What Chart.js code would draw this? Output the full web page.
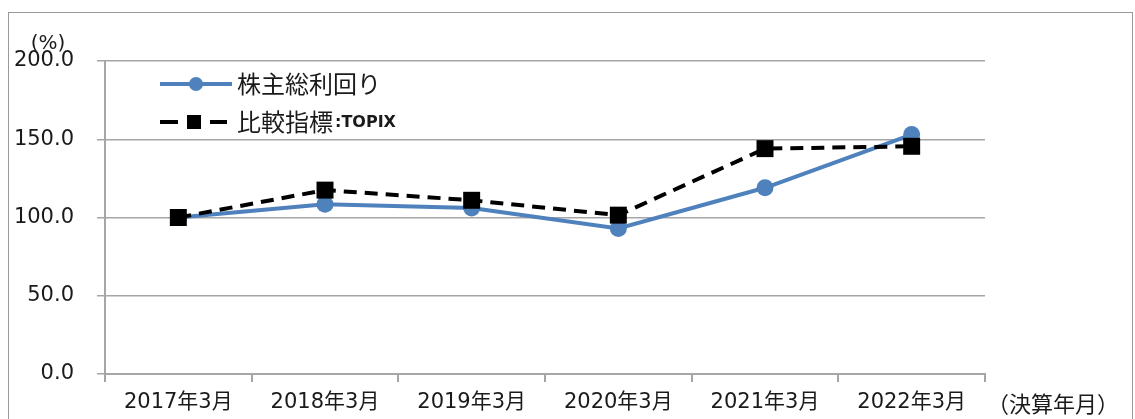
<!DOCTYPE html>
<html>
<head>
<meta charset="utf-8">
<script src="https://cdn.jsdelivr.net/npm/chart.js@4/dist/chart.umd.min.js"></script>
<style>
  html, body { margin: 0; padding: 0; background: #fff; }
  #wrap { width: 1135px; height: 419px; position: relative; }
</style>
</head>
<body>
<div id="wrap"><canvas id="c" width="1135" height="419"></canvas></div>
<script>
// chart data
const categories = ['2017年3月', '2018年3月', '2019年3月', '2020年3月', '2021年3月', '2022年3月'];
const totalReturn = [100.0, 108.5, 106.0, 93.0, 119.0, 153.0];
const topix = [100.0, 117.5, 111.0, 101.5, 144.0, 145.5];
const yTicks = [0, 50, 100, 150, 200];

const FONT = '"DejaVu Sans", "Noto Sans CJK JP", sans-serif';
const JP = '"Noto Sans CJK JP", sans-serif';
const BLUE = '#4f81bd';
const GRID = '#a6a6a6';

// frame, unit labels and the legend
const decorations = {
    id: 'decorations',
    afterDraw(chart) {
        const ctx = chart.ctx;
        ctx.save();
        // outer frame
        ctx.strokeStyle = '#9a9a9a';
        ctx.lineWidth = 1;
        ctx.strokeRect(8.5, 12.5, 1124, 420);

        ctx.fillStyle = '#1a1a1a';
        ctx.font = '20px ' + FONT;
        ctx.textBaseline = 'middle';
        ctx.textAlign = 'center';
        ctx.fillText('(%)', 48, 44);
        ctx.textAlign = 'left';
        ctx.font = '22px ' + JP;
        ctx.fillText('（決算年月）', 987, 404);

        // legend
        const x0 = 160;
        const rows = [
            { y: 84, ds: chart.data.datasets[0], text: '株主総利回り' },
            { y: 122, ds: chart.data.datasets[1], text: '比較指標', suffix: ':TOPIX' }
        ];
        rows.forEach(r => {
            ctx.strokeStyle = r.ds.borderColor;
            ctx.lineWidth = 4;
            ctx.beginPath();
            if (r.ds.borderDash) {
                ctx.moveTo(x0, r.y); ctx.lineTo(x0 + 18, r.y);
                ctx.moveTo(x0 + 50, r.y); ctx.lineTo(x0 + 67, r.y);
            } else {
                ctx.moveTo(x0, r.y); ctx.lineTo(x0 + 72, r.y);
            }
            ctx.stroke();
            ctx.fillStyle = r.ds.pointBackgroundColor;
            if (r.ds.pointStyle === 'rect') {
                ctx.fillRect(x0 + 34 - 7, r.y - 7, 14, 14);
            } else {
                ctx.beginPath();
                ctx.arc(x0 + 36, r.y, 7, 0, Math.PI * 2);
                ctx.fill();
            }
            ctx.fillStyle = '#1a1a1a';
            ctx.font = '24px ' + JP;
            ctx.fillText(r.text, x0 + 77, r.y);
            if (r.suffix) {
                const w = ctx.measureText(r.text).width;
                ctx.font = 'bold 16px "DejaVu Sans", sans-serif';
                ctx.fillText(r.suffix, x0 + 77 + w + 2, r.y + 1);
            }
        });
        ctx.restore();
    }
};

new Chart(document.getElementById('c'), {
    type: 'line',
    data: {
        labels: categories,
        datasets: [
            {
                label: '株主総利回り',
                data: totalReturn,
                order: 1,
                borderColor: BLUE,
                backgroundColor: BLUE,
                pointBackgroundColor: BLUE,
                pointBorderColor: BLUE,
                borderWidth: 4,
                pointStyle: 'circle',
                pointRadius: 8.5,
                pointBorderWidth: 0,
                tension: 0
            },
            {
                label: '比較指標：TOPIX',
                data: topix,
                order: 0,
                borderColor: '#000',
                backgroundColor: '#000',
                pointBackgroundColor: '#000',
                pointBorderColor: '#000',
                borderWidth: 4,
                borderDash: [13, 8],
                pointStyle: 'rect',
                pointRadius: 12,
                pointBorderWidth: 0,
                tension: 0
            }
        ]
    },
    options: {
        responsive: false,
        animation: false,
        layout: { padding: { top: 61, right: 150, left: 0, bottom: 0 } },
        plugins: {
            legend: { display: false },
            tooltip: { enabled: false }
        },
        scales: {
            x: {
                offset: true,
                grid: {
                    offset: true,
                    drawOnChartArea: false,
                    drawTicks: true,
                    tickLength: 8,
                    color: GRID,
                    lineWidth: 2
                },
                border: { color: GRID, width: 2 },
                ticks: {
                    color: '#1a1a1a',
                    font: { family: FONT, size: 21 },
                    padding: 8,
                    maxRotation: 0,
                    autoSkip: false
                },
                afterFit(scale) { scale.height = 45; }
            },
            y: {
                min: 0,
                max: 200,
                afterBuildTicks(scale) {
                    scale.ticks = yTicks.map(v => ({ value: v }));
                },
                grid: {
                    color: GRID,
                    lineWidth: 1.5,
                    tickLength: 8
                },
                border: { color: GRID, width: 2 },
                ticks: {
                    color: '#1a1a1a',
                    font: { family: FONT, size: 21 },
                    padding: 23,
                    callback: v => Number(v).toFixed(1)
                },
                afterFit(scale) { scale.width = 105; }
            }
        }
    },
    plugins: [decorations]
});
</script>
</body>
</html>
